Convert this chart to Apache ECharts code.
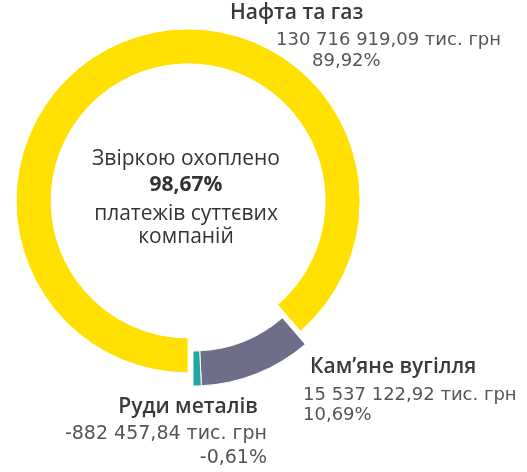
<!DOCTYPE html>
<html>
<head>
<meta charset="utf-8">
<script src="https://cdn.jsdelivr.net/npm/echarts@6/dist/echarts.min.js"></script>
<style>
  html, body { margin: 0; padding: 0; background: #fff; }
  #chart { width: 527px; height: 472px; }
</style>
</head>
<body>
<div id="chart"></div>
<script>
// ---- data ----
const categories = ['Нафта та газ', 'Кам’яне вугілля', 'Руди металів'];
const paymentsThousandUAH = [130716919.09, 15537122.92, -882457.84];
const sharePercent = [89.92, 10.69, -0.61];
const coveragePercent = [98.67];
const centerLines = ['Звіркою охоплено', 'платежів суттєвих', 'компаній'];
const unitLabel = 'тис. грн';

// ---- styles ----
const colors = ['#FFE000', '#6E6E88', '#1FA8A2'];

function fmtNum(v, decimals) {
  const neg = v < 0;
  const s = Math.abs(v).toFixed(decimals);
  let [i, d] = s.split('.');
  i = i.replace(/\B(?=(\d{3})+(?!\d))/g, ' ');
  return (neg ? '-' : '') + i + (d ? ',' + d : '');
}

const nameFont = '600 21px "Open Sans"';
const valFont = '18px "DejaVu Sans"';
const valFontBig = '19px "DejaVu Sans"';
const nameColor = '#3a3a3a';
const valColor = '#555555';

// label placements [x, y, align] for name / value / share lines per category
const labelPos = [
  [[230, 3, 'left'], [276, 31, 'left'], [312, 52, 'left']],
  [[310, 357, 'left'], [303, 386, 'left'], [303, 406, 'left']],
  [[258, 397, 'right'], [267, 425, 'right'], [267, 449, 'right']]
];

const graphics = [];
categories.forEach((c, i) => {
  const p = labelPos[i];
  const vf = i === 2 ? valFontBig : valFont;
  const lines = [
    [c, nameFont, nameColor],
    [fmtNum(paymentsThousandUAH[i], 2) + ' ' + unitLabel, vf, valColor],
    [fmtNum(sharePercent[i], 2) + '%', vf, valColor]
  ];
  lines.forEach((ln, k) => {
    graphics.push({
      type: 'text', x: p[k][0], y: p[k][1], silent: true,
      style: { text: ln[0], font: ln[1], fill: ln[2], align: p[k][2], verticalAlign: 'top' }
    });
  });
});

const cx = 186;
const centerSpec = [
  [centerLines[0], '400 21px "Open Sans"', 159],
  [fmtNum(coveragePercent[0], 2) + '%', '700 21px "Open Sans"', 185],
  [centerLines[1], '400 21px "Open Sans"', 214],
  [centerLines[2], '400 21px "Open Sans"', 237]
];
centerSpec.forEach(s => {
  graphics.push({
    type: 'text', x: cx, y: s[2], silent: true,
    style: { text: s[0], font: s[1], fill: '#333333', align: 'center', verticalAlign: 'middle' }
  });
});

const chart = echarts.init(document.getElementById('chart'), null, { renderer: 'canvas' });
chart.setOption({
  animation: false,
  backgroundColor: '#ffffff',
  series: [{
    type: 'pie',
    center: [193, 214],
    radius: [137, 172],
    startAngle: -90,
    clockwise: true,
    minAngle: 2.8,
    avoidLabelOverlap: false,
    selectedMode: 'single',
    selectedOffset: 14,
    label: { show: false },
    labelLine: { show: false },
    emphasis: { disabled: true },
    itemStyle: { borderColor: '#ffffff', borderWidth: 1 },
    data: categories.map((c, i) => ({
      name: c,
      value: Math.abs(paymentsThousandUAH[i]),
      selected: i === 0,
      itemStyle: { color: colors[i] }
    }))
  }],
  graphic: graphics
});
</script>
</body>
</html>
